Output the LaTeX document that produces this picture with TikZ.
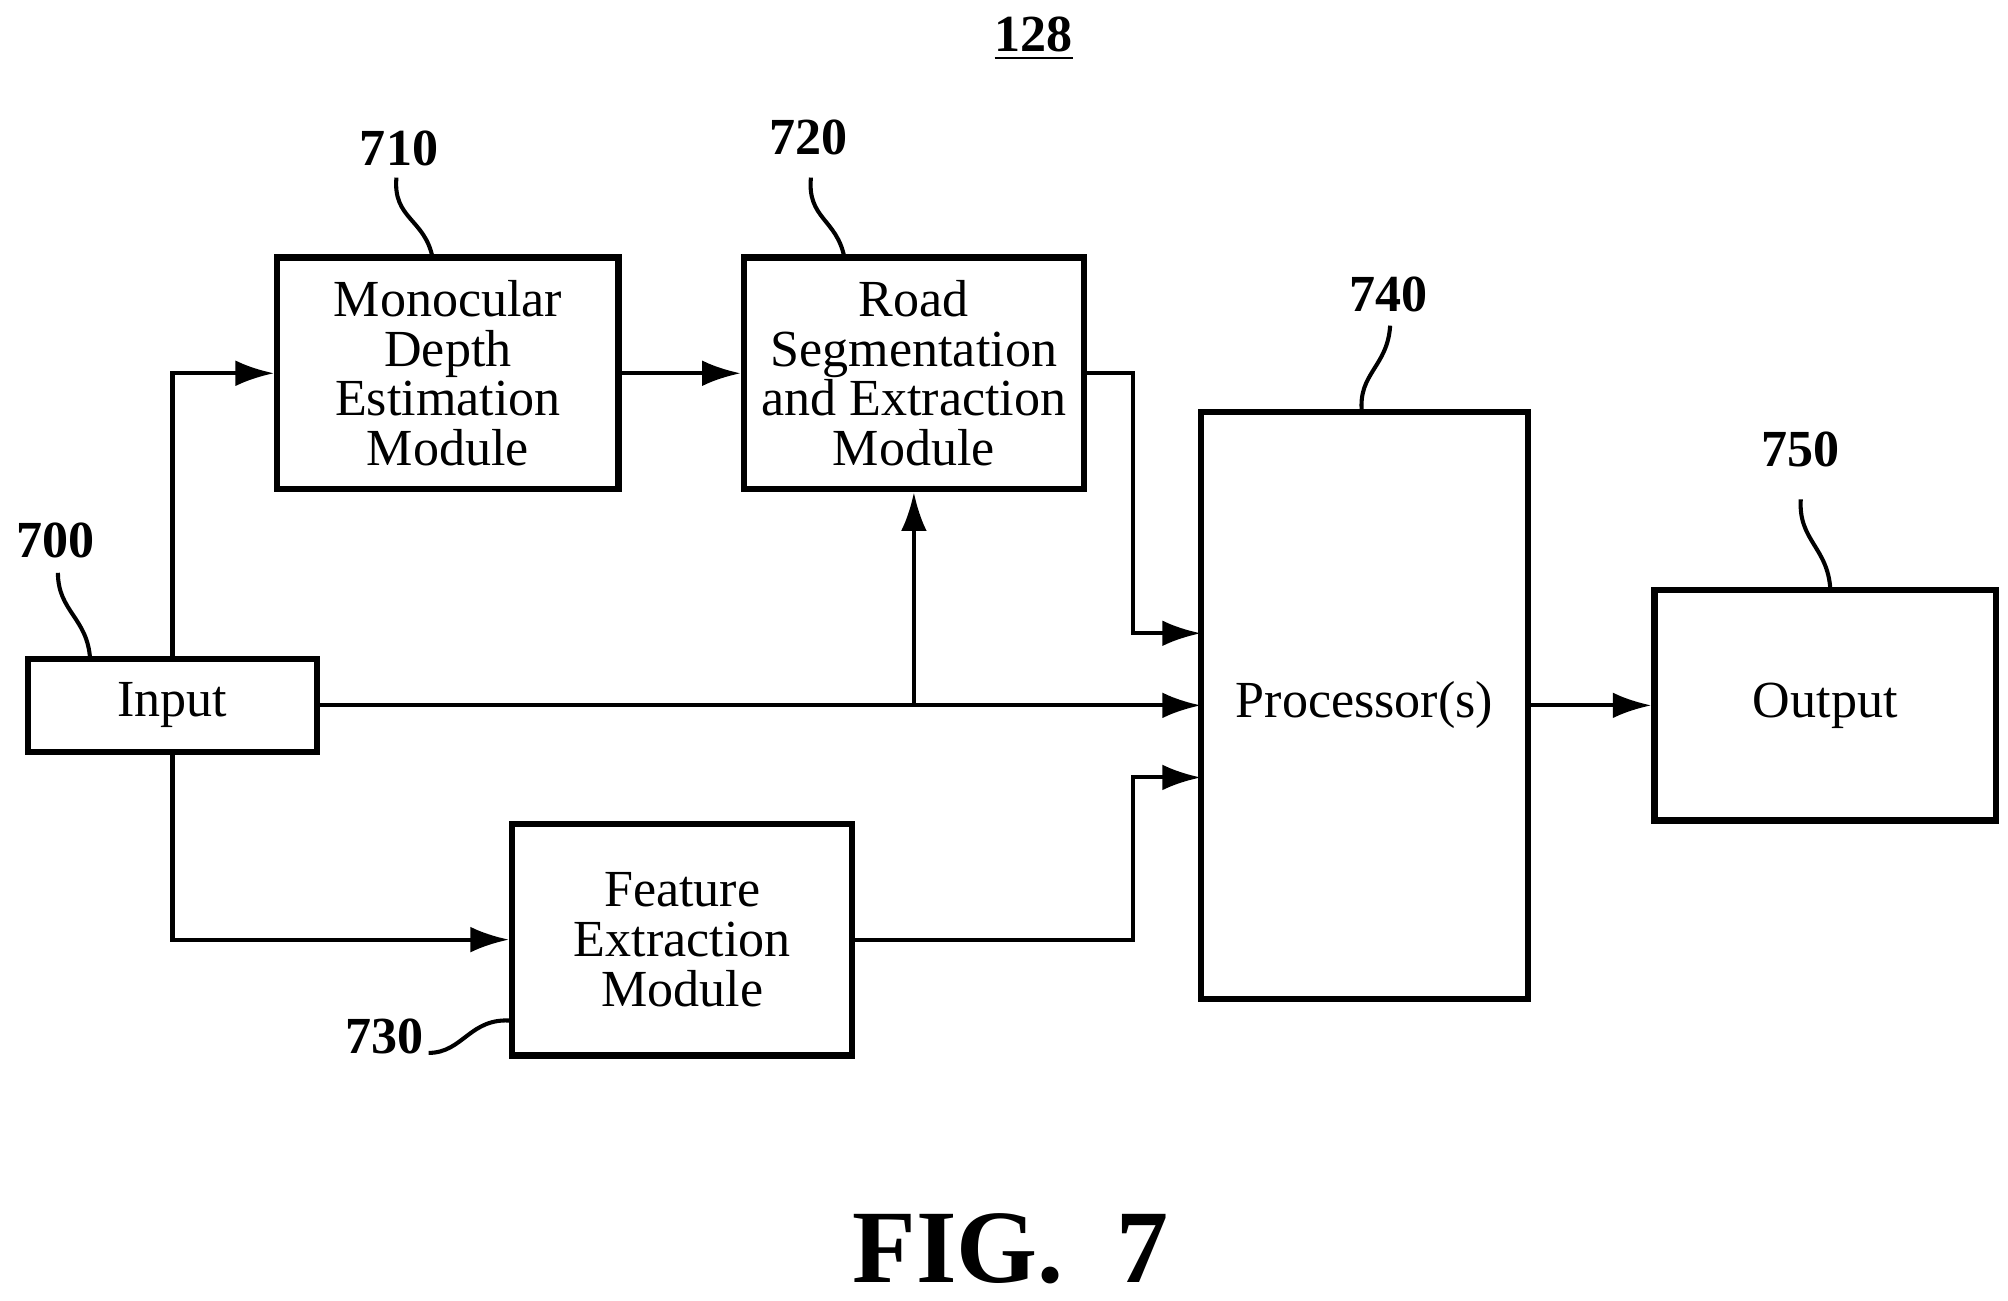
\documentclass[tikz,border=0pt]{standalone}
\usepackage{fontspec}
\setmainfont{Liberation Serif}
\usetikzlibrary{arrows.meta,positioning}
\tikzset{
  >={Latex[length=3mm,width=2mm]},
  block/.style={draw,line width=1.4pt,align=center,inner sep=0pt,
    font=\fontsize{11.5}{11}\selectfont},
  flow/.style={->,line width=0.9pt},
  leader/.style={line width=0.9pt},
  refnum/.style={font=\bfseries\fontsize{11.5}{12}\selectfont},
}
\begin{document}
\begin{tikzpicture}[x=0.01cm,y=-0.01cm]
  \useasboundingbox (0,0) rectangle (1560,1010);

  % --- Blocks ---
  \node[block,minimum width=2.24cm,minimum height=0.72cm] (input) at (134,548) {Input};
  \node[block,minimum width=2.65cm,minimum height=1.8cm] (depth) at (348,290) {Monocular\\Depth\\Estimation\\Module};
  \node[block,minimum width=2.64cm,minimum height=1.8cm] (road) at (710,290) {Road\\Segmentation\\and Extraction\\Module};
  \node[block,minimum width=2.64cm,minimum height=1.8cm] (feat) at (530,730) {Feature\\Extraction\\Module};
  \node[block,minimum width=2.54cm,minimum height=4.56cm] (proc) at (1060,548) {Processor(s)};
  \node[block,minimum width=2.65cm,minimum height=1.79cm] (out) at (1418,548) {Output};

  % --- Reference numerals ---
  \node[refnum] (n128) at (803,30) {\underline{128}};
  \node[refnum] (n710) at (310,115) {710};
  \node[refnum] (n720) at (628,107) {720};
  \node[refnum] (n740) at (1079,229) {740};
  \node[refnum] (n750) at (1399,349) {750};
  \node[refnum] (n700) at (43,420) {700};
  \node[refnum] (n730) at (299,805) {730};
  \node[font=\bfseries\fontsize{23}{23}\selectfont] (fig) at (785,970) {FIG.\ \ 7};

  % --- Leader lines ---
  \draw[leader] (308,138) .. controls (305,170) and (330,170) .. (336,200);
  \draw[leader] (630,138) .. controls (627,170) and (650,170) .. (656,200);
  \draw[leader] (1080,253) .. controls (1078,285) and (1055,290) .. (1058,320);
  \draw[leader] (1399,388) .. controls (1397,420) and (1420,425) .. (1422,458);
  \draw[leader] (45,445) .. controls (45,475) and (68,480) .. (70,512);
  \draw[leader] (333,818) .. controls (360,818) and (365,790) .. (398,793);

  % --- Connectors ---
  \coordinate (tap) at (710,548);
  \draw[flow] (input.north) |- (depth.west);
  \draw[flow] (depth.east) -- (road.west);
  \draw[flow] (road.east) -- (880,290) |- (933,492);
  \draw[flow] (input.east) -- (933,548);
  \draw[flow] (tap) -- (road.south);
  \draw[flow] (input.south) |- (feat.west);
  \draw[flow] (feat.east) -- (880,730) |- (933,604);
  \draw[flow] (proc.east) -- (out.west);
\end{tikzpicture}
\end{document}
